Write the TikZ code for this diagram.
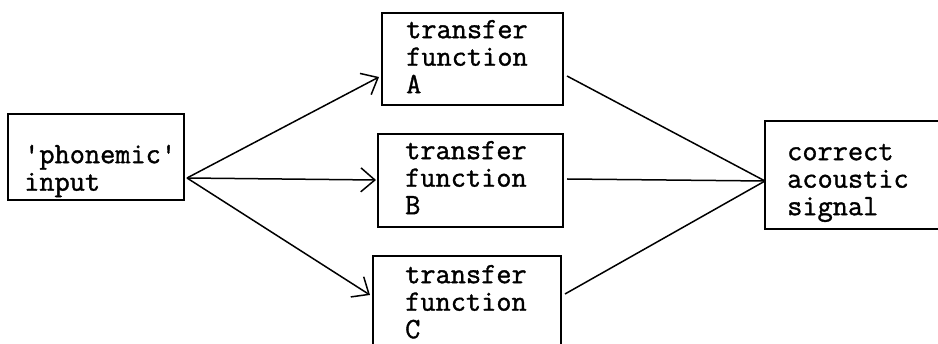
\documentclass[tikz,border=0pt]{standalone}
\usepackage{fontspec}
\newfontfamily\tw[FakeBold=1.2]{Latin Modern Mono}
\usetikzlibrary{arrows.meta}
\newcommand{\fixtop}{\rule{0pt}{20pt}}
\tikzset{
  box/.style={draw=black, line width=2pt, rectangle, inner sep=0pt, anchor=center},
  txt/.style={font=\tw\fontsize{29.5}{27.5}\selectfont, align=left, inner sep=0pt, anchor=north west, text=black},
  conn/.style={draw=black, line width=1.5pt},
  arr/.style={conn, -{Straight Barb[length=14pt,width=24pt,line width=1.5pt]}}
}
\begin{document}
\begin{tikzpicture}[x=1pt,y=-1pt]
\useasboundingbox (0,0) rectangle (938,344);
% boxes
\node[box, minimum width=176pt, minimum height=86pt] (inp) at (96,157) {};
\node[box, minimum width=181pt, minimum height=92pt] (bA) at (472.5,59) {};
\node[box, minimum width=185pt, minimum height=93pt] (bB) at (470.5,180.5) {};
\node[box, minimum width=188pt, minimum height=96pt] (bC) at (467,304) {};
\node[box, minimum width=185pt, minimum height=108pt] (out) at (857.5,175) {};
% texts (first baseline = y + 20)
\node[txt] (tinp) at (24,143) {\fixtop'phonemic'\\input};
\node[txt] (tA) at (406,18) {\fixtop transfer\\function\\A};
\node[txt] (tB) at (405,139) {\fixtop transfer\\function\\B};
\node[txt] (tC) at (405,263) {\fixtop transfer\\function\\C};
\node[txt] (tout) at (787,140) {\fixtop correct\\acoustic\\signal};
% junctions and ends
\coordinate (j1) at (187,178);
\coordinate (j2) at (765,181);
\coordinate (aA) at (379,77);
\coordinate (aB) at (376,180);
\coordinate (aC) at (370,295);
\coordinate (oA) at (567,76);
\coordinate (oB) at (567,179);
\coordinate (oC) at (565,294);
% connectors
\draw[arr] (j1) -- (aA);
\draw[arr] (j1) -- (aB);
\draw[arr] (j1) -- (aC);
\draw[conn] (oA) -- (j2);
\draw[conn] (oB) -- (j2);
\draw[conn] (oC) -- (j2);
\end{tikzpicture}
\end{document}
